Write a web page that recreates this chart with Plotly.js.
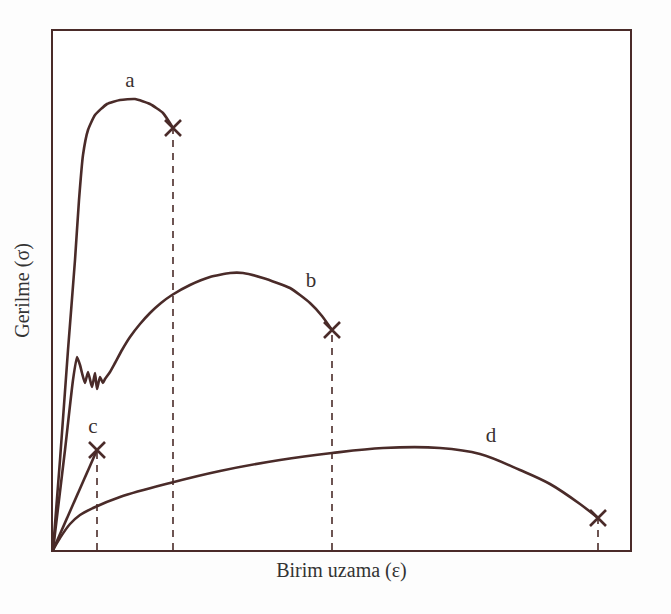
<!DOCTYPE html>
<html><head><meta charset="utf-8">
<script src="https://cdn.plot.ly/plotly-3.0.1.min.js"></script>
<style>html,body{margin:0;padding:0;background:#fff;}#chart{width:671px;height:614px;}</style>
</head><body><div id="chart"></div>
<script>
// Strain (arbitrary units) and stress (arbitrary units)
const aStrain = [0, 7, 15, 22, 26, 30, 35, 42, 54, 67, 82, 97, 110, 120];
const aStress = [0, 90, 200, 290, 350, 395, 420, 435, 446, 450, 451, 446, 437, 422];
const bStrain = [0, 12, 20, 24, 27, 29, 32, 35, 39, 42, 44, 47, 50, 52, 57, 62, 69, 77, 87, 97, 108, 119, 137, 157, 177, 190, 210, 237, 257, 269, 279];
const bStress = [0, 100, 170, 193, 185, 177, 167, 178, 163, 177, 161, 173, 167, 171, 178, 187, 200, 213, 226, 237, 247, 255, 265, 273, 277, 277, 272, 262, 247, 234, 220];
const cStrain = [0, 44];
const cStress = [0, 100];
const dStrain = [0, 7, 17, 27, 40, 67, 117, 167, 227, 279, 330, 387, 427, 467, 497, 527, 545];
const dStress = [0, 12, 26, 35, 42, 53, 67, 79, 90, 97, 102, 102, 96, 80, 66, 46, 32];
const labels = ['a', 'b', 'c', 'd'];
const labelX = [77, 258, 40, 438];
const labelY = [468, 268, 122, 113];
const xTitle = 'Birim uzama (ε)';
const yTitle = 'Gerilme (σ)';

const ink = '#4a2b29';
const curves = [[aStrain, aStress, 0.5], [bStrain, bStress, 0.5], [cStrain, cStress, 0], [dStrain, dStress, 1]];
const traces = [];
curves.forEach(([x, y, sm]) => {
  traces.push({x: x, y: y, mode: 'lines', line: {color: ink, width: 2.6, shape: 'spline', smoothing: sm}, hoverinfo: 'skip'});
  const fx = x[x.length - 1], fy = y[y.length - 1];
  traces.push({x: [fx, fx], y: [0, fy], mode: 'lines', line: {color: ink, width: 1.6, dash: '7px,6px'}, hoverinfo: 'skip'});
  traces.push({x: [fx], y: [fy], mode: 'markers', marker: {symbol: 'x-thin-open', size: 16, color: ink, line: {color: ink, width: 2.6}}, hoverinfo: 'skip'});
});
traces.push({x: labelX, y: labelY, mode: 'text', text: labels, textfont: {family: 'Liberation Serif', size: 21, color: '#3a3030'}, hoverinfo: 'skip'});

const layout = {
  width: 671, height: 614,
  margin: {l: 53, r: 41, t: 31, b: 64},
  paper_bgcolor: '#fdfdfd', plot_bgcolor: '#ffffff',
  showlegend: false,
  xaxis: {range: [0, 577], showgrid: false, zeroline: false, showticklabels: false, ticks: '',
    showline: true, mirror: true, linecolor: ink, linewidth: 2.2,
    title: {text: xTitle, font: {family: 'Liberation Serif', size: 20, color: '#333'}, standoff: 12}},
  yaxis: {range: [0, 519], showgrid: false, zeroline: false, showticklabels: false, ticks: '',
    showline: true, mirror: true, linecolor: ink, linewidth: 2.2,
    title: {text: yTitle, font: {family: 'Liberation Serif', size: 20, color: '#333'}, standoff: 16}}
};
Plotly.newPlot('chart', traces, layout, {staticPlot: true});
</script></body></html>
